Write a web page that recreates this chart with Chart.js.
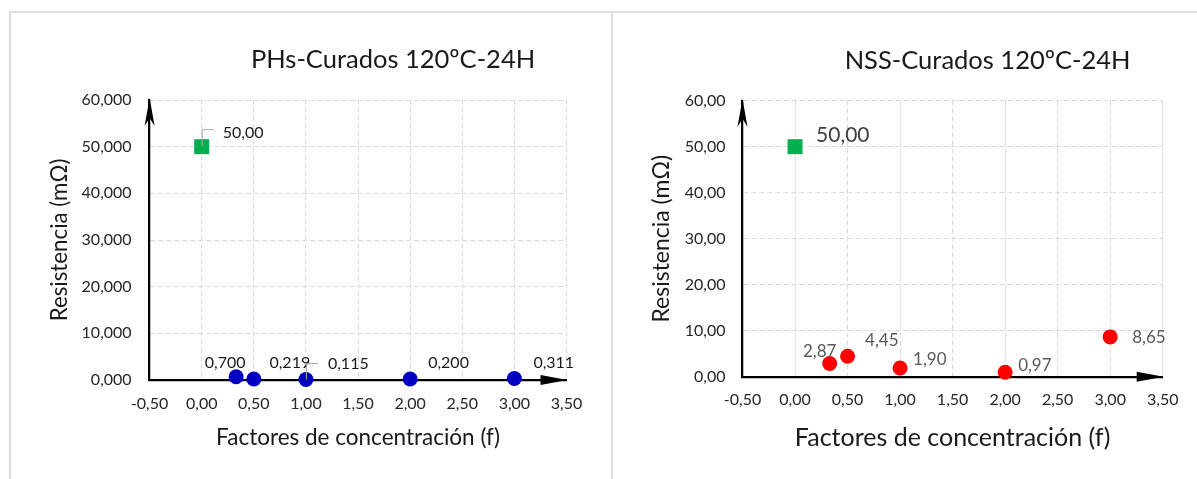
<!DOCTYPE html>
<html>
<head>
<meta charset="utf-8">
<script src="https://cdn.jsdelivr.net/npm/chart.js@4.4.1/dist/chart.umd.min.js"></script>
<style>
  html, body { margin: 0; padding: 0; background: #fff; width: 1197px; height: 479px; overflow: hidden; }
  .frame { position: absolute; border: 2px solid #dcdcdc; border-bottom: none; }
  #f1 { left: 9px; top: 11px; width: 600px; height: 470px; }
  #f2 { left: 613px; top: 11px; width: 590px; height: 470px; border-left: none; border-right: none; }
  canvas { position: absolute; }
</style>
</head>
<body>
<div class="frame" id="f1"></div>
<div class="frame" id="f2"></div>
<canvas id="phsChart" width="598" height="465" style="left:12px;top:14px"></canvas>
<canvas id="nssChart" width="583" height="465" style="left:614px;top:14px"></canvas>
<script>
// chart values
const factors = [0.33, 0.5, 1, 2, 3];
const phsValues = [0.700, 0.219, 0.115, 0.200, 0.311];
const nssValues = [2.87, 4.45, 1.90, 0.97, 8.65];
const refFactor = [0];
const refValue = [50];
const xTicks = [-0.5, 0, 0.5, 1, 1.5, 2, 2.5, 3, 3.5];
const yTicks = [0, 10, 20, 30, 40, 50, 60];

Chart.defaults.font.family = "Lato, 'Open Sans', sans-serif";
Chart.defaults.color = '#262626';

const fmt = (v, d) => v.toFixed(d).replace('.', ',');

// titles, arrowheads, data labels and leader lines
const decor = {
  id: 'decor',
  afterDraw(chart, args, o) {
    const { ctx, chartArea: a, scales: { x, y } } = chart;
    ctx.save();
    ctx.fillStyle = '#1a1a1a';
    ctx.font = o.titleSize + 'px Lato';
    ctx.textAlign = 'center';
    ctx.textBaseline = 'middle';
    ctx.fillText(o.title, (a.left + a.right) / 2 + 35, a.top - 40);

    // axis arrows
    ctx.fillStyle = '#000';
    ctx.beginPath();
    ctx.moveTo(a.left, a.top - 2);
    ctx.lineTo(a.left - 5, a.top + 26);
    ctx.lineTo(a.left, a.top + 18);
    ctx.lineTo(a.left + 5, a.top + 26);
    ctx.closePath();
    ctx.fill();
    ctx.beginPath();
    ctx.moveTo(a.right + 1, a.bottom);
    ctx.lineTo(a.right - 26, a.bottom - 5);
    ctx.lineTo(a.right - 26, a.bottom + 5);
    ctx.closePath();
    ctx.fill();

    o.labels.forEach(l => {
      const px = x.getPixelForValue(l.x);
      const py = y.getPixelForValue(l.y);
      if (l.leader) {
        ctx.strokeStyle = '#a6a6a6';
        ctx.lineWidth = 1;
        ctx.beginPath();
        ctx.moveTo(px + 0.5, py);
        ctx.lineTo(px + 0.5, py + l.leader[1]);
        ctx.lineTo(px + l.leader[0], py + l.leader[1]);
        ctx.stroke();
      }
      ctx.fillStyle = l.color;
      ctx.font = l.size + 'px Lato';
      ctx.textAlign = l.align;
      ctx.textBaseline = 'middle';
      ctx.fillText(l.text, px + l.dx, py + l.dy);
    });
    ctx.restore();
  }
};

function makeChart(id, cfg) {
  const labels = [];
  cfg.values.forEach((v, i) => {
    const s = cfg.offsets[i];
    labels.push({ x: factors[i], y: v, text: fmt(v, cfg.labelDec), dx: s[0], dy: s[1], align: s[2],
      leader: s[3], size: cfg.labelSize, color: cfg.labelColor });
  });
  labels.push({ x: refFactor[0], y: refValue[0], text: fmt(refValue[0], 2), dx: cfg.refOffset[0],
    dy: cfg.refOffset[1], align: 'left', leader: cfg.refOffset[2], size: cfg.refSize, color: cfg.refColor });

  return new Chart(document.getElementById(id), {
    type: 'scatter',
    data: {
      datasets: [
        {
          data: refFactor.map((f, i) => ({ x: f, y: refValue[i] })),
          pointStyle: 'rect', pointRadius: 10.6, backgroundColor: '#00b050', borderWidth: 0, clip: false
        },
        {
          data: factors.map((f, i) => ({ x: f, y: cfg.values[i] })),
          pointStyle: 'circle', pointRadius: 7.5, backgroundColor: cfg.color, borderWidth: 0, clip: false
        }
      ]
    },
    options: {
      responsive: false,
      animation: false,
      devicePixelRatio: 1,
      layout: { padding: cfg.padding },
      plugins: {
        legend: { display: false },
        tooltip: { enabled: false },
        decor: { title: cfg.title, titleSize: 25.5, labels: labels }
      },
      scales: {
        x: {
          type: 'linear', min: xTicks[0], max: xTicks[xTicks.length - 1],
          afterBuildTicks: s => { s.ticks = xTicks.map(v => ({ value: v })); },
          afterFit: s => { s.height = cfg.xHeight; },
          grid: { color: '#d9d9d9', lineWidth: 1, drawTicks: false },
          border: { display: true, color: '#000', width: 2.25, dash: [5, 3] },
          ticks: { padding: 14, maxRotation: 0, autoSkip: false, font: { size: 16 }, color: '#262626',
            callback: v => fmt(v, 2) },
          title: { display: true, text: 'Factores de concentración (f)', font: { size: cfg.xTitleSize },
            color: '#1a1a1a', padding: { bottom: cfg.xTitlePad, top: 0 } }
        },
        y: {
          type: 'linear', min: yTicks[0], max: yTicks[yTicks.length - 1],
          afterBuildTicks: s => { s.ticks = yTicks.map(v => ({ value: v })); },
          afterFit: s => { s.width = cfg.yWidth; },
          grid: { color: '#d9d9d9', lineWidth: 1, drawTicks: false },
          border: { display: true, color: '#000', width: 2.25, dash: [5, 3] },
          ticks: { padding: cfg.yTickPad, font: { size: 16 }, color: '#262626',
            callback: v => fmt(v, cfg.yDec) },
          title: { display: true, text: 'Resistencia (mΩ)', font: { size: cfg.yTitleSize }, color: '#1a1a1a',
            padding: { top: 48 - cfg.yTitleSize * 0.6, bottom: 0 } }
        }
      }
    },
    plugins: [decor]
  });
}

makeChart('phsChart', {
  title: 'PHs-Curados 120ºC-24H',
  values: phsValues, color: '#0000c0', labelDec: 3, labelSize: 16, labelColor: '#1a1a1a',
  offsets: [[-11, -14, 'center'], [36, -16, 'center'], [22, -16, 'left', [12, -16]], [18, -16, 'left'], [19, -16, 'left']],
  refOffset: [21, -14, [12, -17]], refSize: 16, refColor: '#1a1a1a',
  padding: { left: 0, right: 43.5, top: 86, bottom: 0 },
  yWidth: 137.6, xHeight: 99, yDec: 3, yTickPad: 18, xTitleSize: 22.5, xTitlePad: 27.5, yTitleSize: 22.3
});

makeChart('nssChart', {
  title: 'NSS-Curados 120ºC-24H',
  values: nssValues, color: '#ff0000', labelDec: 2, labelSize: 17, labelColor: '#595959',
  offsets: [[-10, -12, 'center'], [17.5, -16, 'left'], [13, -8, 'left'], [13, -7, 'left'], [22, 1, 'left']],
  refOffset: [21, -11, null], refSize: 21, refColor: '#404040',
  padding: { left: 0, right: 34.3, top: 86.7, bottom: 0 },
  yWidth: 128.5, xHeight: 102.3, yDec: 2, yTickPad: 17, xTitleSize: 25, xTitlePad: 26.5, yTitleSize: 23
});
</script>
</body>
</html>
